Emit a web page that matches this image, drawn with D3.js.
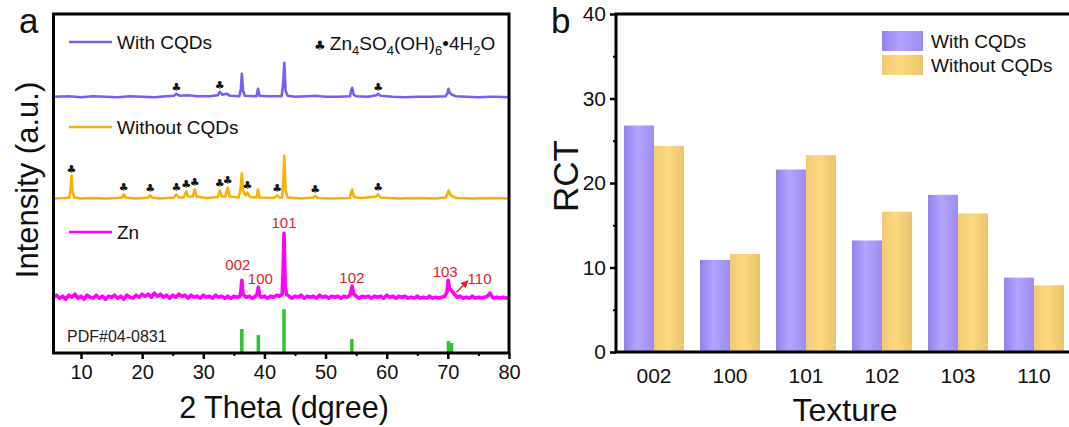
<!DOCTYPE html>
<html>
<head>
<meta charset="utf-8">
<script src="https://cdn.jsdelivr.net/npm/d3@7"></script>
<style>
  html, body { margin: 0; padding: 0; background: #fff; }
  svg { display: block; font-family: "Liberation Sans", Arial, sans-serif; }
</style>
</head>
<body>
<svg id="fig" width="1069" height="427"></svg>
<script>
// ---------- Panel a: XRD patterns (2θ in degrees, intensity in a.u. above each trace's baseline) ----------
const withCQDsPattern = [
  [5.5,0],[8,0.5],[10,-0.5],[12,0.5],[14,0],[16,-0.5],[18,0.5],[20,0],[22,-0.5],[24,0.5],
  [25.2,1],[25.6,3],[26.1,1],[27.5,1.5],[29,0.5],[31,0.5],[32.4,1.5],[32.7,5],[33.1,2],[33.8,3],
  [34.4,1],[35.9,0.5],[36.15,8],[36.3,23],[36.5,6],[36.8,1],[38.7,0.5],[38.95,8],[39.2,1],[40.5,0.5],
  [42.8,0.5],[43.05,12],[43.25,34],[43.45,6],[43.8,1],[45,0],[47,0.5],[48.3,1],[50,0],[52,0],
  [54.0,0.5],[54.2,7],[54.35,9],[54.6,2],[55,0.5],[57,0],[58.3,1.5],[58.6,3],[59,1],[61,0],
  [63,-0.5],[65,0],[67,0],[69.6,0.5],[69.9,3],[70.1,8],[70.3,4],[70.7,2],[71.3,0.5],[73,0],
  [75,-0.5],[77,0],[78,0],[80,-0.5]
];

const withoutCQDsPattern = [
  [5.5,0],[7.5,0.5],[8.1,1],[8.3,10],[8.45,23],[8.6,8],[8.9,1],[10,0],[12,0.5],[14,0],
  [16,0.5],[16.7,1],[17,4],[17.3,1],[19,0],[21,1],[21.3,3],[21.6,1],[23,0],[25.2,1],
  [25.6,4],[26,1],[26.8,1],[27.2,7],[27.5,2],[28.3,2],[28.6,9],[28.9,2],[30.5,0.5],[32.4,1.5],
  [32.7,8],[33,2],[33.6,2],[34.0,11],[34.3,2],[35.8,1],[36.1,10],[36.3,25],[36.5,8],[36.9,3],
  [37.2,6],[37.6,1.5],[38.7,1],[38.95,9],[39.2,1],[41.5,0.5],[42.1,3],[42.4,1],[42.9,1],[43.1,20],
  [43.25,43],[43.45,8],[43.8,1],[46,0],[48,1],[48.3,2.5],[48.7,0.5],[51,0],[54.0,0.5],[54.2,7],
  [54.35,9],[54.6,2],[55,1],[56,0.5],[58.3,2],[58.6,4],[59,1],[62,0],[65,0.5],[68,0],
  [69.7,1],[70.0,6],[70.15,8],[70.4,4],[70.8,2],[71.5,0.5],[74,0],[77,0.5],[80,0]
];

const znPattern = [
  [5.5,0],[6,2],[6.5,-1],[7,1],[7.5,-2],[8,2],[8.5,0],[9,3],[9.5,-1],[10,1],
  [10.5,-2],[11,2],[11.5,0],[12,-1],[12.5,2],[13,-1],[13.5,1],[14,-2],[14.5,1],[15,0],
  [15.5,2],[16,-1],[16.5,1],[17,-2],[17.5,2],[18,0],[18.5,-1],[19,2],[19.5,0],[20,3],
  [20.5,1],[21,3],[21.5,0],[22,4],[22.5,1],[23,3],[23.5,0],[24,2],[24.5,-1],[25,2],
  [25.5,0],[26,3],[26.5,1],[27,2],[27.5,-1],[28,2],[28.5,0],[29,1],[29.5,-1],[30,2],
  [30.5,0],[31,1],[31.5,-1],[32,2],[32.5,0],[33,1],[33.5,-1],[34,1],[34.5,-1],[35,1],
  [35.5,0],[36,1],[36.15,6],[36.3,17],[36.5,3],[37,0],[37.5,1],[38,-1],[38.5,1],[38.8,3],
  [39.0,10],[39.2,2],[39.5,0],[40,1],[40.5,-1],[41,1],[41.5,0],[42,2],[42.5,1],[42.9,3],
  [43.05,25],[43.2,64],[43.4,10],[43.6,3],[44,1],[44.5,-1],[45,1],[45.5,0],[46,2],[46.5,-1],
  [47,1],[47.5,0],[48,1],[48.5,-1],[49,2],[49.5,0],[50,1],[50.5,-1],[51,1],[51.5,0],
  [52,1],[52.5,-1],[53,1],[53.5,0],[54.0,2],[54.2,8],[54.35,11],[54.6,3],[55,1],[55.5,-1],
  [56,1],[56.5,0],[57,1],[57.5,-1],[58,1],[58.5,0],[59,1],[59.5,-1],[60,2],[60.5,0],
  [61,1],[61.5,-1],[62,1],[62.5,0],[63,1],[63.5,-1],[64,0],[64.5,-1],[65,1],[65.5,-1],
  [66,0],[66.5,-1],[67,1],[67.5,-1],[68,0],[68.5,-1],[69,0],[69.5,1],[69.85,5],[70.05,17],
  [70.25,8],[70.6,7],[70.9,4],[71.2,2],[71.5,0],[72,1],[72.5,-1],[73,0],[73.5,-1],[74,1],
  [74.5,-1],[75,0],[75.5,-1],[76,0],[76.5,1],[76.9,4],[77.3,0],[77.5,-1],[78,0],[78.5,-1],
  [79,0],[79.5,-1],[80,0]
];

// vertical stacking offset of each trace (a.u.)
const traceOffsets = { zn: 56, without: 155, with: 257 };

// Zn4SO4(OH)6·4H2O reflections marked with clubs: [2θ, peak height]
const withCQDsClubs = [[25.6,3],[32.7,5],[58.6,3]];
const withoutCQDsClubs = [[8.45,23],[17.0,4],[21.3,3],[25.6,4],[27.2,7],[28.6,9],[32.7,8],[34.0,11],[37.2,6],[42.1,3],[48.3,2.5],[58.6,4]];

// Zn reflection labels: [text, 2θ of peak]
const znLabels = [["002",36.3],["100",39.0],["101",43.2],["102",54.3],["103",70.05],["110",70.6]];

// PDF#04-0831 reference sticks: [2θ, relative intensity]
const pdfSticks = [[36.3,24],[39.0,18],[43.2,44],[54.3,14],[70.1,12],[70.6,10]];

const xTicksA = [10,20,30,40,50,60,70,80];
const xMinorA = [15,25,35,45,55,65,75];

// ---------- Panel b: RCT by texture ----------
const textures = ["002","100","101","102","103","110"];
const rctWithCQDs = [26.8, 10.9, 21.6, 13.2, 18.6, 8.8];
const rctWithoutCQDs = [24.4, 11.6, 23.3, 16.6, 16.4, 7.9];
const yTicksB = [0,10,20,30,40];
const yMinorB = [5,15,25,35];

const seriesNames = ["With CQDs", "Without CQDs"];

const svg = d3.select("#fig");
const defs = svg.append("defs");

// horizontal shading of the bars
function shade(id, stops) {
  const g = defs.append("linearGradient").attr("id", id)
    .attr("x1", "0%").attr("x2", "100%").attr("y1", "0%").attr("y2", "0%");
  stops.forEach(([o, c]) => g.append("stop").attr("offset", o).attr("stop-color", c));
}
shade("gPurple", [["0%","#9482ee"],["45%","#b5a3ff"],["100%","#9d8bf0"]]);
shade("gOrange", [["0%","#f1cb74"],["45%","#fdd97e"],["100%","#e9c46d"]]);

const colPurple = "#7b5cf4", colOrange = "#f8b200", colZn = "#ff00ff", colRed = "#e3202a", colGreen = "#2cc62c";

// ================= Panel a =================
const A = { left: 53.5, right: 509, top: 14, bottom: 353 };
const xA = d3.scaleLinear().domain([5.5, 80]).range([A.left, A.right]);
const yA = d3.scaleLinear().domain([0, 340]).range([A.bottom, A.top]);

const gA = svg.append("g");

const clipA = defs.append("clipPath").attr("id", "clipA");
clipA.append("rect").attr("x", A.left).attr("y", A.top).attr("width", A.right - A.left).attr("height", A.bottom - A.top);

const plotA = gA.append("g").attr("clip-path", "url(#clipA)");

function trace(data, off, color, width) {
  const line = d3.line().x(d => xA(d[0])).y(d => yA(off + d[1]));
  plotA.append("path").datum(data).attr("d", line)
    .attr("fill", "none").attr("stroke", color).attr("stroke-width", width)
    .attr("stroke-linejoin", "round");
}
trace(znPattern, traceOffsets.zn, colZn, 3.6);
trace(withoutCQDsPattern, traceOffsets.without, colOrange, 2.6);
trace(withCQDsPattern, traceOffsets.with, colPurple, 2.6);

// PDF sticks
plotA.selectAll("line.pdf").data(pdfSticks).join("line")
  .attr("x1", d => xA(d[0])).attr("x2", d => xA(d[0]))
  .attr("y1", yA(0)).attr("y2", d => yA(d[1]))
  .attr("stroke", colGreen).attr("stroke-width", 3.5);

// club markers
function clubs(list, off) {
  gA.selectAll(null).data(list).join("text")
    .attr("x", d => xA(d[0])).attr("y", d => yA(off + d[1]) - 3)
    .attr("text-anchor", "middle").attr("font-family", "DejaVu Sans")
    .attr("font-size", 11).attr("fill", "#111").text("\u2663");
}
clubs(withCQDsClubs, traceOffsets.with);
clubs(withoutCQDsClubs, traceOffsets.without);

// Zn hkl labels
const lblPos = { "002": [-4, -10], "100": [2, -3], "101": [0, -5], "102": [0, -3], "103": [-3, -3], "110": [28, -6] };
gA.selectAll("text.hkl").data(znLabels).join("text")
  .attr("x", d => xA(d[1]) + lblPos[d[0]][0])
  .attr("y", d => {
    const pk = d3.max(znPattern.filter(p => Math.abs(p[0] - d[1]) < 0.3), p => p[1]);
    return yA(traceOffsets.zn + pk) + lblPos[d[0]][1];
  })
  .attr("text-anchor", "middle").attr("font-size", 15).attr("fill", colRed).text(d => d[0]);

// arrow pointing to the 110 shoulder
defs.append("marker").attr("id", "arrowRed").attr("viewBox", "0 0 10 10")
  .attr("refX", 8).attr("refY", 5).attr("markerWidth", 5).attr("markerHeight", 5).attr("orient", "auto")
  .append("path").attr("d", "M0,0 L10,5 L0,10 z").attr("fill", colRed);
gA.append("line")
  .attr("x1", xA(71.4)).attr("y1", yA(traceOffsets.zn + 5))
  .attr("x2", xA(73.2)).attr("y2", yA(traceOffsets.zn + 16))
  .attr("stroke", colRed).attr("stroke-width", 1.5).attr("marker-end", "url(#arrowRed)");

// PDF card label
gA.append("text").attr("x", 67).attr("y", 342).attr("font-size", 16).attr("fill", "#222").text("PDF#04-0831");

// legend entries of panel a
const legA = [["With CQDs", colPurple, 42], ["Without CQDs", colOrange, 127], ["Zn", colZn, 232]];
legA.forEach(([t, c, y]) => {
  gA.append("line").attr("x1", 69).attr("x2", 112).attr("y1", y).attr("y2", y)
    .attr("stroke", c).attr("stroke-width", 2.5);
  gA.append("text").attr("x", 117).attr("y", y + 6.5).attr("font-size", 19).attr("fill", "#111").text(t);
});

// phase key
const key = gA.append("text").attr("x", 314).attr("y", 50).attr("font-size", 19).attr("fill", "#111");
key.append("tspan").attr("font-family", "DejaVu Sans").attr("font-size", 13).text("\u2663 ");
[["Zn",0],["4",1],["SO",0],["4",1],["(OH)",0],["6",1],["\u20224H",0],["2",1],["O",0]].forEach(([s, sub]) => {
  const t = key.append("tspan").text(s);
  if (sub) t.attr("font-size", 13).attr("dy", 5);
});
// restore baseline after each subscript
key.selectAll("tspan").each(function(d, i, nodes) {
  const prev = i > 0 ? nodes[i - 1] : null;
  if (prev && prev.getAttribute("dy") === "5" && this.getAttribute("dy") !== "5") d3.select(this).attr("dy", -5);
});

// frame and x axis
gA.append("rect").attr("x", A.left).attr("y", A.top).attr("width", A.right - A.left).attr("height", A.bottom - A.top)
  .attr("fill", "none").attr("stroke", "#000").attr("stroke-width", 3);

const axA = gA.append("g").attr("transform", `translate(0,${A.bottom})`)
  .call(d3.axisBottom(xA).tickValues(xTicksA).tickSize(6).tickPadding(6).tickFormat(d3.format("d")));
axA.select(".domain").remove();
axA.selectAll(".tick line").attr("stroke-width", 2.5);
axA.selectAll(".tick text").attr("font-size", 20).attr("font-family", "Liberation Sans, Arial, sans-serif").attr("fill", "#111");
const axAm = gA.append("g").attr("transform", `translate(0,${A.bottom})`)
  .call(d3.axisBottom(xA).tickValues(xMinorA).tickSize(3).tickFormat(""));
axAm.select(".domain").remove();
axAm.selectAll(".tick line").attr("stroke-width", 2);

gA.append("text").attr("x", 284).attr("y", 418).attr("text-anchor", "middle").attr("font-size", 30.5).attr("fill", "#111")
  .text("2 Theta (dgree)");
gA.append("text").attr("transform", "translate(38,180) rotate(-90)").attr("text-anchor", "middle")
  .attr("font-size", 31).attr("fill", "#111").text("Intensity (a.u.)");
gA.append("text").attr("x", 19).attr("y", 33).attr("font-size", 35).attr("fill", "#111").text("a");

// ================= Panel b =================
const B = { left: 616, right: 1072, top: 14, bottom: 352 };
const xB = d3.scaleBand().domain(textures).range([B.left, B.right]).paddingInner(0.21).paddingOuter(0.105);
const xS = d3.scaleBand().domain(seriesNames).range([0, xB.bandwidth()]);
const yB = d3.scaleLinear().domain([0, 40]).range([B.bottom, B.top]);

const gB = svg.append("g");
const rows = textures.map((t, i) => ({ t, v: [rctWithCQDs[i], rctWithoutCQDs[i]] }));
const fills = ["url(#gPurple)", "url(#gOrange)"];

gB.selectAll("g.grp").data(rows).join("g").attr("transform", d => `translate(${xB(d.t)},0)`)
  .selectAll("rect").data(d => d.v.map((v, k) => ({ v, k }))).join("rect")
  .attr("x", d => xS(seriesNames[d.k])).attr("width", xS.bandwidth())
  .attr("y", d => yB(d.v)).attr("height", d => yB(0) - yB(d.v))
  .attr("fill", d => fills[d.k]);

// frame
gB.append("path").attr("d", `M${B.right},${B.top} H${B.left} V${B.bottom} H${B.right}`)
  .attr("fill", "none").attr("stroke", "#000").attr("stroke-width", 3);

const ayB = gB.append("g").attr("transform", `translate(${B.left},0)`)
  .call(d3.axisLeft(yB).tickValues(yTicksB).tickSize(6).tickPadding(4).tickFormat(d3.format("d")));
ayB.select(".domain").remove();
ayB.selectAll(".tick line").attr("stroke-width", 2.5);
ayB.selectAll(".tick text").attr("font-size", 21).attr("font-family", "Liberation Sans, Arial, sans-serif").attr("fill", "#111");
const ayBm = gB.append("g").attr("transform", `translate(${B.left},0)`)
  .call(d3.axisLeft(yB).tickValues(yMinorB).tickSize(3).tickFormat(""));
ayBm.select(".domain").remove();
ayBm.selectAll(".tick line").attr("stroke-width", 2);

const axB = gB.append("g").attr("transform", `translate(0,${B.bottom})`)
  .call(d3.axisBottom(xB).tickSize(0).tickPadding(16));
axB.select(".domain").remove();
axB.selectAll(".tick text").attr("font-size", 21).attr("font-family", "Liberation Sans, Arial, sans-serif").attr("fill", "#111");

gB.append("text").attr("x", 845).attr("y", 421).attr("text-anchor", "middle").attr("font-size", 32).attr("fill", "#111").text("Texture");
gB.append("text").attr("transform", "translate(578,176) rotate(-90)").attr("text-anchor", "middle")
  .attr("font-size", 35).attr("fill", "#111").text("RCT");
gB.append("text").attr("x", 551).attr("y", 33).attr("font-size", 35).attr("fill", "#111").text("b");

// legend of panel b
seriesNames.forEach((s, k) => {
  const y = 31 + k * 24;
  gB.append("rect").attr("x", 882).attr("y", y).attr("width", 41).attr("height", 20).attr("fill", fills[k]);
  gB.append("text").attr("x", 931).attr("y", y + 17).attr("font-size", 19).attr("fill", "#111").text(s);
});
</script>
</body>
</html>
